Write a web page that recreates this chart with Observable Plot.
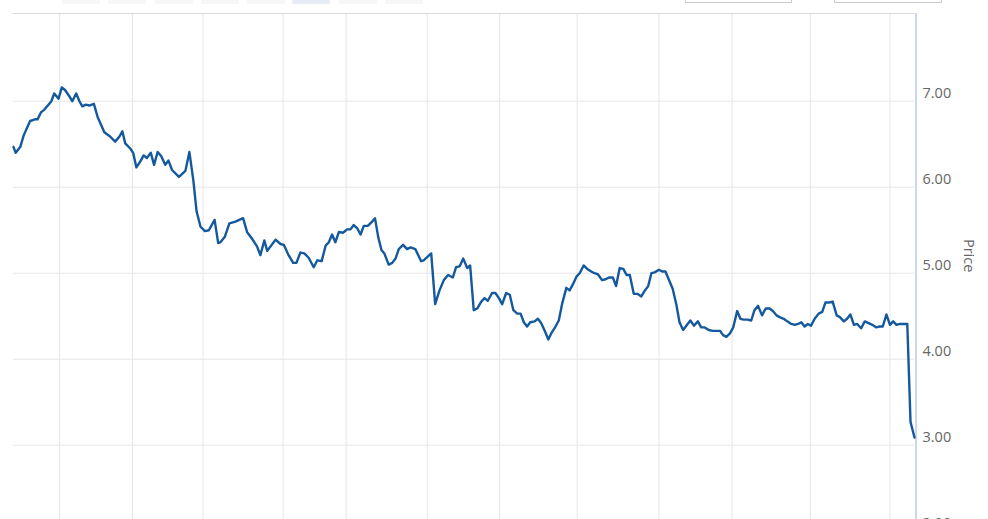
<!DOCTYPE html>
<html>
<head>
<meta charset="utf-8">
<script src="https://cdn.jsdelivr.net/npm/d3@7"></script>
<script src="https://cdn.jsdelivr.net/npm/@observablehq/plot@0.6"></script>
<style>
  html, body { margin: 0; padding: 0; background: #fff; overflow: hidden; }
  #wrap { position: relative; width: 988px; height: 519px; overflow: hidden; font-family: "Open Sans", sans-serif; }
  .btn { position: absolute; top: -20px; height: 24px; width: 38px; background: #f7f7f7; border-radius: 0 0 2px 2px; }
  .btn.sel { background: #e6ebf5; }
  .inp { position: absolute; top: -20px; height: 21px; border: 1px solid #cccccc; background: #fff; }
  #chart { position: absolute; left: 0; top: 0; }
</style>
</head>
<body>
<div id="wrap">
  <div id="chart"></div>
</div>
<script>
// trading-day index (position along the ordinal time axis) and closing price
const days = [
  0,0.6,1.9,2.8,4.6,6.0,6.7,7.6,8.5,9.7,
  10.5,11.3,12.5,13.4,14.3,15.3,16.3,17.4,18.3,19.1,
  20.1,21.0,22.3,23.4,25.2,26.8,28.2,29.4,30.2,31.0,
  32.4,33.2,34.1,35.2,36.1,37.0,38.1,39.0,40.0,41.0,
  42.1,43.0,44.0,45.9,47.7,48.8,49.9,50.8,51.9,53.1,
  54.2,55.8,56.8,57.4,58.6,59.9,61.6,63.7,64.8,66.2,
  67.6,68.5,69.6,70.4,72.7,74.1,75.0,76.2,77.6,78.5,
  79.6,80.7,81.9,83.3,84.3,85.5,86.6,87.5,88.4,89.3,
  90.3,91.4,92.6,93.5,94.4,95.4,96.3,97.2,98.3,99.3,
  100.3,101.2,102.1,102.9,104.1,105.1,106.0,106.9,108.1,109.2,
  110.2,111.5,113.1,113.8,115.9,117.0,118.2,119.4,120.6,121.9,
  122.8,123.8,124.8,125.9,126.7,127.7,128.7,129.8,130.7,131.6,
  132.8,133.7,134.7,135.6,136.7,137.7,138.7,139.8,140.7,141.6,
  142.5,143.4,144.6,145.5,146.4,147.4,148.4,149.2,150.4,151.3,
  152.2,153.4,154.3,155.2,156.2,157.1,158.2,159.2,160.3,161.2,
  162.1,163.3,164.3,165.2,166.3,167.2,168.2,169.2,170.1,171.0,
  172.1,173.1,174.2,175.2,176.1,177.0,177.9,179.1,180.0,180.9,
  182.0,182.9,183.9,184.8,185.8,186.9,187.8,188.8,189.9,190.8,
  191.8,192.9,194.0,195.2,196.0,196.9,197.8,198.8,199.7,200.8,
  201.7,202.6,203.7,204.7,205.6,206.6,207.7,208.7,209.8,210.7,
  211.7,212.6,213.7,214.7,215.8,216.8,217.7,218.6,219.5,220.4,
  221.3,222.3,223.4,224.4,225.3,226.4,227.3,228.4,229.3,230.4,
  231.3,232.2,233.2,234.1,235.2,236.2,237.3,238.3,239.4,240.3,
  241.2,242.2,243.2,244.1,245.0,245.9,247.0,248.0,248.9,250.0
];
const prices = [
  6.47,6.40,6.47,6.60,6.77,6.79,6.79,6.87,6.90,6.96,
  7.00,7.09,7.03,7.16,7.13,7.07,7.00,7.09,7.00,6.94,
  6.96,6.95,6.97,6.81,6.64,6.59,6.53,6.59,6.65,6.51,
  6.45,6.40,6.23,6.30,6.37,6.34,6.40,6.26,6.41,6.36,
  6.26,6.31,6.20,6.12,6.19,6.41,6.08,5.72,5.54,5.49,
  5.50,5.62,5.35,5.36,5.42,5.58,5.60,5.64,5.48,5.40,
  5.31,5.21,5.38,5.26,5.39,5.34,5.33,5.22,5.12,5.12,
  5.24,5.23,5.18,5.07,5.15,5.14,5.32,5.36,5.45,5.36,
  5.48,5.47,5.51,5.51,5.56,5.52,5.45,5.55,5.55,5.59,
  5.64,5.42,5.27,5.23,5.10,5.12,5.17,5.28,5.33,5.28,
  5.30,5.28,5.14,5.15,5.23,4.64,4.80,4.92,4.98,4.95,
  5.07,5.08,5.17,5.06,5.09,4.57,4.59,4.67,4.71,4.68,
  4.77,4.77,4.71,4.64,4.77,4.75,4.57,4.53,4.53,4.43,
  4.38,4.43,4.44,4.47,4.42,4.33,4.23,4.30,4.38,4.45,
  4.64,4.83,4.80,4.87,4.96,5.00,5.09,5.05,5.02,5.00,
  4.99,4.92,4.93,4.95,4.95,4.85,5.06,5.05,4.98,4.98,
  4.76,4.76,4.73,4.80,4.85,5.00,5.01,5.04,5.02,5.02,
  4.91,4.82,4.64,4.43,4.34,4.40,4.45,4.39,4.44,4.37,
  4.37,4.34,4.33,4.33,4.33,4.28,4.26,4.30,4.37,4.56,
  4.47,4.46,4.46,4.45,4.57,4.62,4.51,4.59,4.59,4.56,
  4.51,4.49,4.47,4.44,4.41,4.40,4.41,4.43,4.38,4.41,
  4.39,4.47,4.53,4.55,4.66,4.66,4.67,4.51,4.49,4.44,
  4.47,4.52,4.40,4.41,4.36,4.44,4.42,4.40,4.37,4.38,
  4.38,4.52,4.40,4.44,4.40,4.41,4.41,4.41,3.27,3.09
];
// month-start gridlines along the ordinal axis (trading-day index)
const monthTicks = [12.8, 33.0, 52.6, 74.8, 92.3, 114.8, 134.9, 156.4, 179.1, 199.4, 221.1, 243.2];
// price axis ticks
const priceTicks = [2, 3, 4, 5, 6, 7];
const axisTitle = "Price";
const xDomain = [0, 250];
const yDomain = [2, 8.02];
// range-selector buttons (empty, cut off at top) and date inputs
const buttonLefts = [62, 108, 155, 201, 247, 292, 339, 385];
const selectedButton = 5;
const inputBoxes = [[685, 105], [834, 106]];

const wrap = document.getElementById("wrap");
buttonLefts.forEach((l, i) => {
  const b = document.createElement("div");
  b.className = "btn" + (i === selectedButton ? " sel" : "");
  b.style.left = l + "px";
  wrap.appendChild(b);
});
inputBoxes.forEach(([l, w]) => {
  const b = document.createElement("div");
  b.className = "inp";
  b.style.left = l + "px";
  b.style.width = w + "px";
  wrap.appendChild(b);
});

const data = days.map((d, i) => ({day: d, price: prices[i]}));

const chart = Plot.plot({
  width: 988,
  height: 560,
  marginLeft: 13,
  marginRight: 74,
  marginTop: 13,
  marginBottom: 29.3,
  style: {fontFamily: "'Open Sans', sans-serif", background: "transparent", overflow: "visible"},
  x: {domain: xDomain, axis: null},
  y: {domain: yDomain, axis: null},
  marks: [
    Plot.ruleX(monthTicks, {stroke: "#e6e6e6", strokeWidth: 1}),
    Plot.ruleY(priceTicks, {stroke: "#e6e6e6", strokeWidth: 1}),
    Plot.ruleY([yDomain[1]], {stroke: "#d9d9d9", strokeWidth: 1}),
    Plot.ruleX([xDomain[1]], {stroke: "#ccd6eb", strokeWidth: 2, dx: 1.5}),
    Plot.axisY(priceTicks, {
      anchor: "right",
      tickSize: 0,
      tickPadding: 8,
      dy: -8,
      tickFormat: d => d.toFixed(2),
      fontSize: 14.5,
      fill: "#666666",
      label: null
    }),
    Plot.text([axisTitle], {
      frameAnchor: "right",
      dx: 54,
      rotate: 90,
      fontSize: 14.5,
      fill: "#666666"
    }),
    Plot.line(data, {x: "day", y: "price", stroke: "#14599e", strokeWidth: 2.4, strokeLinejoin: "round"})
  ]
});
document.getElementById("chart").appendChild(chart);
</script>
</body>
</html>
